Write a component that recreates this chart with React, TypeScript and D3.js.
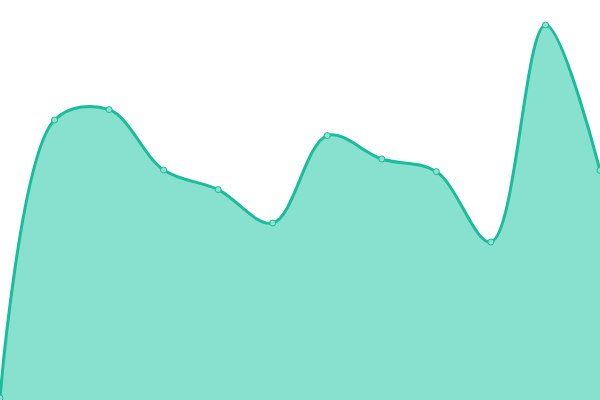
import React from "react";
import * as d3 from "d3";

const categories = ["1", "2", "3", "4", "5", "6", "7", "8", "9", "10", "11", "12"];
const values = [0.5, 70, 72.6, 57.5, 52.6, 44.25, 66.1, 60.25, 57.1, 39.5, 93.75, 57.4];

const W = 600;
const H = 400;

export default function App() {
  const x = d3.scalePoint<string>().domain(categories).range([0, W]);
  const y = d3.scaleLinear().domain([0, 100]).range([H, 0]);
  const data = categories.map((c, i) => ({ c, v: values[i] }));
  const curve = d3.curveCatmullRom.alpha(0.5);
  const area = d3
    .area<{ c: string; v: number }>()
    .x((d) => x(d.c)!)
    .y0(H)
    .y1((d) => y(d.v))
    .curve(curve);
  const line = d3
    .line<{ c: string; v: number }>()
    .x((d) => x(d.c)!)
    .y((d) => y(d.v))
    .curve(curve);
  return (
    <svg
      width={W}
      height={H}
      style={{ position: "absolute", left: 0, top: 0, display: "block" }}
    >
      <path d={area(data)!} fill="#88e0cf" />
      <path d={line(data)!} fill="none" stroke="#1abc9c" strokeWidth={3} />
      {data.map((d) => (
        <circle
          key={d.c}
          cx={x(d.c)}
          cy={y(d.v)}
          r={3}
          fill="#8fe0cf"
          stroke="#1abc9c"
          strokeWidth={1}
        />
      ))}
    </svg>
  );
}
